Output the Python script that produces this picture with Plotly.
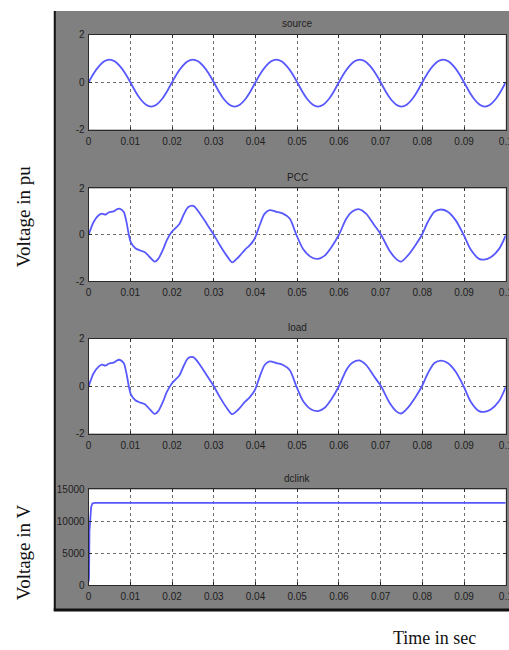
import plotly.graph_objects as go

# canvas size; layout positions below are given in target-pixel units and
# converted with SCALE / OFFSET so the drawing fills the captured page
SCALE = 0.985
OFF_X, OFF_Y = 2, 4
W, H = 517, 660

# ---- data -------------------------------------------------------------
# source voltage (pu), sampled every 1.25 ms (50 Hz)
source_t = [i * 0.00125 for i in range(81)]
source_v = [
    0.00, 0.38, 0.68, 0.89, 0.96, 0.89, 0.68, 0.38,
    0.00, -0.40, -0.73, -0.95, -1.03, -0.95, -0.73, -0.40,
    0.00, 0.38, 0.68, 0.89, 0.96, 0.89, 0.68, 0.38,
    0.00, -0.40, -0.73, -0.95, -1.03, -0.95, -0.73, -0.40,
    0.00, 0.38, 0.68, 0.89, 0.96, 0.89, 0.68, 0.38,
    0.00, -0.40, -0.73, -0.95, -1.03, -0.95, -0.73, -0.40,
    0.00, 0.38, 0.68, 0.89, 0.96, 0.89, 0.68, 0.38,
    0.00, -0.40, -0.73, -0.95, -1.03, -0.95, -0.73, -0.40,
    0.00, 0.38, 0.68, 0.89, 0.96, 0.89, 0.68, 0.38,
    0.00, -0.40, -0.73, -0.95, -1.03, -0.95, -0.73, -0.40,
    0.00,
]

# PCC voltage (pu)
pcc_t = [0.0, 0.0012, 0.0024, 0.0032, 0.0040, 0.0048, 0.0060, 0.0068, 0.0074,
         0.0084, 0.0090, 0.0096, 0.0101, 0.0112, 0.0124, 0.0135, 0.0147, 0.0159,
         0.0167, 0.0179, 0.0187, 0.0199, 0.0207, 0.0218, 0.0229, 0.0239, 0.0251,
         0.0267, 0.0283, 0.0300, 0.0315, 0.0331, 0.0344, 0.0359, 0.0375, 0.0386,
         0.0398, 0.0410, 0.0422, 0.0434, 0.0450, 0.0466, 0.0482, 0.0498, 0.0514,
         0.0534, 0.0550, 0.0566, 0.0582, 0.0600, 0.0618, 0.0633, 0.0649, 0.0665,
         0.0685, 0.0701, 0.0721, 0.0737, 0.0749, 0.0765, 0.0783, 0.0799, 0.0813,
         0.0829, 0.0845, 0.0861, 0.0880, 0.0899, 0.0916, 0.0936, 0.0948, 0.0964,
         0.0984, 0.1000]
pcc_v = [0.00, 0.55, 0.84, 0.91, 0.87, 0.96, 1.01, 1.10, 1.13,
         0.99, 0.62, 0.04, -0.32, -0.58, -0.68, -0.75, -0.97, -1.16,
         -1.04, -0.61, -0.25, 0.12, 0.26, 0.48, 0.91, 1.20, 1.25,
         0.91, 0.48, 0.00, -0.46, -0.90, -1.19, -0.97, -0.64, -0.46,
         -0.17, 0.41, 0.91, 1.06, 0.99, 0.91, 0.70, 0.00, -0.61,
         -0.97, -1.04, -0.90, -0.54, 0.00, 0.70, 1.01, 1.10, 0.91,
         0.41, 0.00, -0.68, -1.04, -1.16, -0.90, -0.46, 0.00, 0.55,
         0.99, 1.09, 0.99, 0.62, 0.00, -0.64, -1.04, -1.07, -0.97,
         -0.61, -0.03]

# load voltage (pu)
load_t = list(pcc_t)
load_v = [0.00, 0.55, 0.83, 0.91, 0.87, 0.95, 1.00, 1.09, 1.12,
          0.98, 0.61, 0.03, -0.33, -0.59, -0.69, -0.76, -0.98, -1.17,
          -1.05, -0.62, -0.26, 0.11, 0.26, 0.47, 0.90, 1.19, 1.23,
          0.90, 0.47, 0.00, -0.47, -0.91, -1.18, -0.98, -0.65, -0.47,
          -0.18, 0.40, 0.90, 1.05, 0.98, 0.90, 0.69, 0.00, -0.62,
          -0.98, -1.05, -0.91, -0.55, 0.00, 0.69, 1.00, 1.09, 0.90,
          0.40, 0.00, -0.69, -1.05, -1.15, -0.91, -0.47, 0.00, 0.54,
          0.98, 1.08, 0.98, 0.61, 0.00, -0.65, -1.05, -1.08, -0.98,
          -0.62, -0.03]

# DC link voltage (V)
dc_t = [0.0, 0.0001, 0.0002, 0.0004, 0.0006, 0.0009, 0.0015, 0.1]
dc_v = [500, 1200, 8500, 11000, 12200, 12800, 12900, 12900]

titles = ["source", "PCC", "load", "dclink"]
x_ticks = [0, 0.01, 0.02, 0.03, 0.04, 0.05, 0.06, 0.07, 0.08, 0.09, 0.1]
x_tick_text = ["0", "0.01", "0.02", "0.03", "0.04", "0.05", "0.06", "0.07",
               "0.08", "0.09", "0.1"]
pu_ticks = [-2, 0, 2]
dc_ticks = [0, 5000, 10000, 15000]

# ---- layout geometry (pixels -> paper fractions) ------------------------
def px(p):
    return (p - OFF_X) / SCALE / W

def py(p):
    return 1 - (p - OFF_Y) / SCALE / H

panels_px = [(33, 128), (187, 280), (338, 433), (489, 585)]
x0_px, x1_px = 88, 507

fig = go.Figure()

# gray figure panel
fig.add_shape(type="rect", xref="paper", yref="paper", layer="below",
              x0=px(54), x1=1.0, y0=py(609), y1=py(9),
              fillcolor="#808080", line=dict(width=0))

series = [(source_t, source_v), (pcc_t, pcc_v), (load_t, load_v), (dc_t, dc_v)]
line_color = "rgb(88,88,255)"
tick_font = dict(family="Liberation Sans, Arial", size=10, color="#1e1e1e")

for i, ((t, v), (top, bot)) in enumerate(zip(series, panels_px)):
    n = "" if i == 0 else str(i + 1)
    # white axes face
    fig.add_shape(type="rect", xref="paper", yref="paper", layer="below",
                  x0=px(x0_px), x1=px(x1_px), y0=py(bot), y1=py(top),
                  fillcolor="white", line=dict(width=0))
    fig.add_trace(go.Scatter(
        x=t, y=v, mode="lines",
        line=dict(color=line_color, width=1.8,
                  shape="spline" if i < 3 else "linear", smoothing=0.8),
        xaxis="x" + n, yaxis="y" + n, showlegend=False, hoverinfo="skip",
    ))
    common = dict(showline=True, mirror="ticks", linecolor="#2a2a2a", linewidth=1,
                  ticks="inside", ticklen=3, tickcolor="#2a2a2a",
                  showgrid=True, gridcolor="#6e6e6e", griddash="dot", gridwidth=1,
                  zeroline=False, tickfont=tick_font)
    fig.layout["xaxis" + n] = dict(
        domain=[px(x0_px), px(x1_px)], anchor="y" + n, range=[0, 0.1],
        tickvals=x_ticks, ticktext=x_tick_text, ticklabeloverflow="allow",
        ticklabelstandoff=2, **common)
    if i < 3:
        yax = dict(range=[-2, 2], tickvals=pu_ticks, ticktext=[str(k) for k in pu_ticks])
    else:
        yax = dict(range=[0, 15000], tickvals=dc_ticks, ticktext=[str(k) for k in dc_ticks])
    fig.layout["yaxis" + n] = dict(domain=[py(bot), py(top)], anchor="x" + n,
                                   ticklabelstandoff=1, **yax, **common)
    fig.add_annotation(text=titles[i], xref="paper", yref="paper",
                       x=px((x0_px + x1_px) / 2), y=py(top - 11),
                       showarrow=False, xanchor="center", yanchor="middle",
                       font=dict(family="Liberation Sans, Arial", size=10, color="#1e1e1e"))

# dark frame on the left and bottom of the gray panel
fig.add_shape(type="line", xref="paper", yref="paper",
              x0=px(54), x1=px(54), y0=py(611), y1=py(9),
              line=dict(color="#111111", width=2))
fig.add_shape(type="line", xref="paper", yref="paper",
              x0=px(53), x1=1.0, y0=py(610), y1=py(610),
              line=dict(color="#111111", width=3))

serif = dict(family="Liberation Serif, Times New Roman", size=19, color="#111111")
fig.add_annotation(text="Voltage in pu", xref="paper", yref="paper",
                   x=px(22), y=py(215), textangle=-90, showarrow=False,
                   xanchor="center", yanchor="middle", font=serif)
fig.add_annotation(text="Voltage in V", xref="paper", yref="paper",
                   x=px(22), y=py(552), textangle=-90, showarrow=False,
                   xanchor="center", yanchor="middle", font=serif)
fig.add_annotation(text="Time in sec", xref="paper", yref="paper",
                   x=px(435), y=py(638), showarrow=False,
                   xanchor="center", yanchor="middle",
                   font=dict(family="Liberation Serif, Times New Roman", size=18, color="#111111"))

fig.update_layout(width=W, height=H, margin=dict(l=0, r=0, t=0, b=0),
                  paper_bgcolor="white", plot_bgcolor="white")

fig.write_html("out.html")
